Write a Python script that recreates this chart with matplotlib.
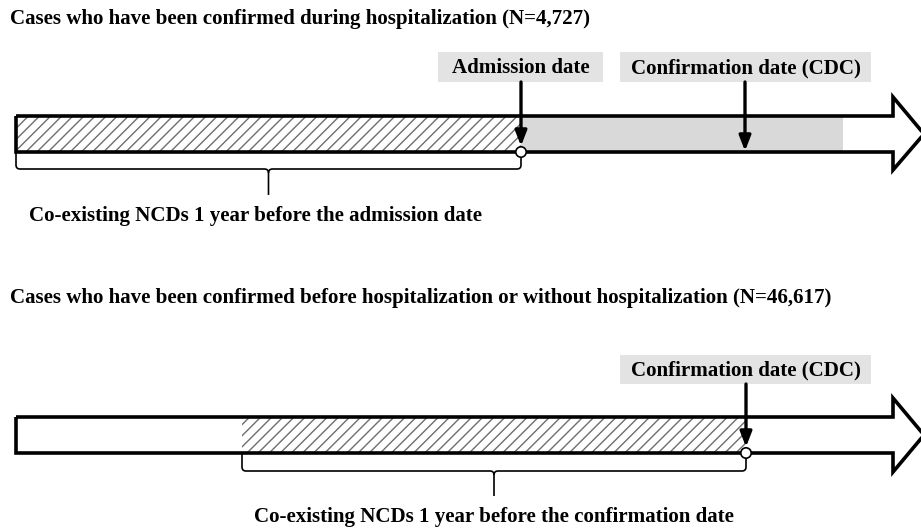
import matplotlib
matplotlib.use("Agg")
import matplotlib.pyplot as plt
from matplotlib.patches import Polygon, Rectangle, Circle, PathPatch
from matplotlib.path import Path

plt.rcParams['font.family'] = ['Liberation Serif', 'DejaVu Serif']
plt.rcParams['hatch.linewidth'] = 1.0

# ---- content ----
titles = ["Cases who have been confirmed during hospitalization (N=4,727)",
          "Cases who have been confirmed before hospitalization or without hospitalization (N=46,617)"]
event_labels_1 = ["Admission date", "Confirmation date (CDC)"]
event_labels_2 = ["Confirmation date (CDC)"]
brace_labels = ["Co-existing NCDs 1 year before the admission date",
                "Co-existing NCDs 1 year before the confirmation date"]

# timeline positions (pixel-like units along the x axis)
event_x_1 = [521, 745]
event_x_2 = [746]
hatch_span_1 = [16, 521]
gray_span_1 = [521, 843]
hatch_span_2 = [242, 746]
box_span_1 = [[438, 603], [620, 871]]
box_span_2 = [[620, 871]]

W, H = 921, 529
fig = plt.figure(figsize=(W / 100, H / 100), dpi=100)
ax = fig.add_axes([0, 0, 1, 1])
ax.set_xlim(0, W)
ax.set_ylim(H, 0)
ax.axis('off')

BODY_L, BODY_R, TIP = 16, 893, 924
FS = 15.1


def timeline(y_top, y_bot, head_top, head_bot):
    ymid = (y_top + y_bot) / 2
    pts = [(BODY_L, y_top), (BODY_R, y_top), (BODY_R, head_top), (TIP, ymid),
           (BODY_R, head_bot), (BODY_R, y_bot), (BODY_L, y_bot)]
    ax.add_patch(Polygon(pts, closed=True, facecolor='none', edgecolor='black',
                         linewidth=2.6, joinstyle='miter', zorder=5))


def hatched(x0, x1, y_top, y_bot):
    ax.add_patch(Rectangle((x0, y_top), x1 - x0, y_bot - y_top, facecolor='white',
                           edgecolor='#6e6e6e', hatch='///', linewidth=0, zorder=2))


def gray(x0, x1, y_top, y_bot):
    ax.add_patch(Rectangle((x0, y_top), x1 - x0, y_bot - y_top, facecolor='#d9d9d9',
                           edgecolor='none', zorder=2))


def label_box(x0, x1, y0, y1, text):
    ax.add_patch(Rectangle((x0, y0), x1 - x0, y1 - y0, facecolor='#e3e3e3',
                           edgecolor='none', zorder=3))
    ax.text((x0 + x1) / 2, (y0 + y1) / 2 + 1, text, ha='center', va='center',
            fontsize=FS, fontweight='bold', zorder=4)


def down_arrow(x, y0, y1, circle_y=None):
    ax.annotate('', xy=(x, y1), xytext=(x, y0),
                arrowprops=dict(arrowstyle='-|>,head_length=0.9,head_width=0.35',
                                color='black', lw=2.4, shrinkA=0, shrinkB=0),
                zorder=7)
    if circle_y is not None:
        ax.add_patch(Circle((x, circle_y), 5.2, facecolor='white', edgecolor='black',
                            linewidth=1.2, zorder=8))


def brace(x0, x1, y_top, y_bot, y_tick):
    xm = (x0 + x1) / 2
    r = 4
    verts = [(x0, y_top), (x0, y_bot - r), (x0, y_bot), (x0 + r, y_bot),
             (xm - r, y_bot), (xm, y_bot), (xm, y_bot + r), (xm, y_tick)]
    codes = [Path.MOVETO, Path.LINETO, Path.CURVE3, Path.CURVE3,
             Path.LINETO, Path.CURVE3, Path.CURVE3, Path.LINETO]
    ax.add_patch(PathPatch(Path(verts, codes), facecolor='none', edgecolor='black',
                           linewidth=1.2, zorder=4))
    verts2 = [(xm, y_bot + r), (xm, y_bot), (xm + r, y_bot), (x1 - r, y_bot),
              (x1, y_bot), (x1, y_bot - r), (x1, y_top)]
    codes2 = [Path.MOVETO, Path.CURVE3, Path.CURVE3, Path.LINETO,
              Path.CURVE3, Path.CURVE3, Path.LINETO]
    ax.add_patch(PathPatch(Path(verts2, codes2), facecolor='none', edgecolor='black',
                           linewidth=1.2, zorder=4))
    return xm


# ---------- panel 1 ----------
ax.text(10, 19, titles[0], ha='left', va='center', fontsize=FS, fontweight='bold')
y_top, y_bot = 116, 152
hatched(hatch_span_1[0], hatch_span_1[1], y_top, y_bot)
gray(gray_span_1[0], gray_span_1[1], y_top, y_bot)
timeline(y_top, y_bot, 97, 170)
for (b0, b1), t in zip(box_span_1, event_labels_1):
    label_box(b0, b1, 52, 82, t)
down_arrow(event_x_1[0], 82, 146, circle_y=y_bot)
down_arrow(event_x_1[1], 82, 151)
xm = brace(hatch_span_1[0], hatch_span_1[1], y_bot, 169, 195)
ax.text(29, 216, brace_labels[0], ha='left', va='center', fontsize=FS, fontweight='bold')

# ---------- panel 2 ----------
ax.text(10, 298, titles[1], ha='left', va='center', fontsize=FS, fontweight='bold')
y_top, y_bot = 417, 453
hatched(hatch_span_2[0], hatch_span_2[1], y_top, y_bot)
timeline(y_top, y_bot, 398, 472)
for (b0, b1), t in zip(box_span_2, event_labels_2):
    label_box(b0, b1, 355, 384, t)
down_arrow(event_x_2[0], 384, 447, circle_y=y_bot)
xm = brace(hatch_span_2[0], hatch_span_2[1], y_bot, 471, 496)
ax.text(xm, 517, brace_labels[1], ha='center', va='center', fontsize=FS, fontweight='bold')

fig.savefig('out.png', dpi=100)
